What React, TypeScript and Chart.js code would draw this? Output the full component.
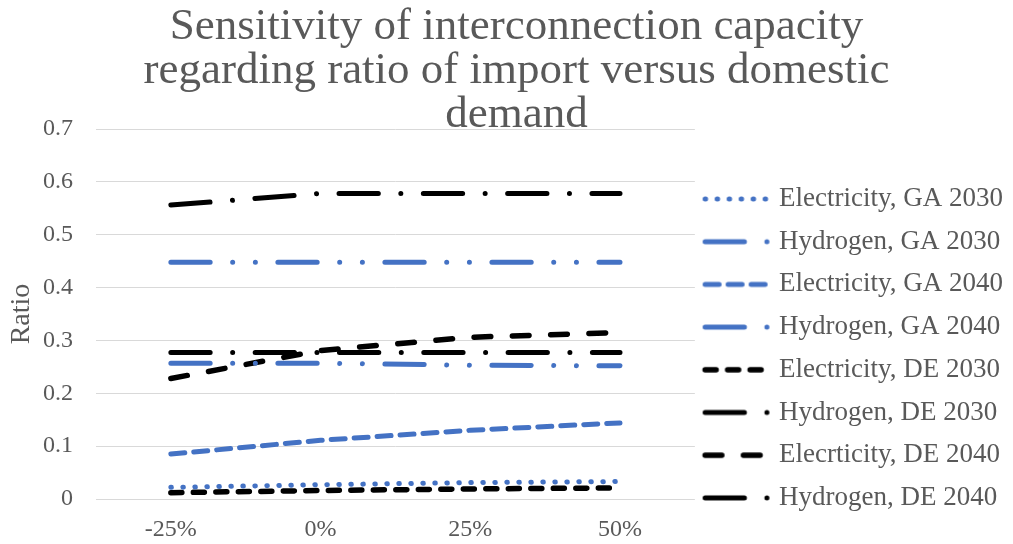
import { useEffect, useRef } from "react";
import { Chart, registerables } from "chart.js";

Chart.register(...registerables);

// Scenario axis: change of import share relative to the base case
const categories = ["-25%", "0%", "25%", "50%"];

// Interconnection capacity ratios per scenario
const electricityGA2030 = [0.022, 0.027, 0.031, 0.033];
const hydrogenGA2030 = [0.257, 0.257, 0.253, 0.252];
const electricityGA2040 = [0.085, 0.111, 0.13, 0.144];
const hydrogenGA2040 = [0.448, 0.448, 0.448, 0.448];
const electricityDE2030 = [0.012, 0.016, 0.019, 0.021];
const hydrogenDE2030 = [0.277, 0.277, 0.277, 0.277];
const electricityDE2040 = [0.228, 0.281, 0.306, 0.315];
const hydrogenDE2040 = [0.556, 0.578, 0.578, 0.578];

const seriesLabels = [
  "Electricity, GA 2030",
  "Hydrogen, GA 2030",
  "Electricity, GA 2040",
  "Hydrogen, GA 2040",
  "Electricity, DE 2030",
  "Hydrogen, DE 2030",
  "Elecrticity, DE 2040",
  "Hydrogen, DE 2040",
];

const seriesData = [
  electricityGA2030,
  hydrogenGA2030,
  electricityGA2040,
  hydrogenGA2040,
  electricityDE2030,
  hydrogenDE2030,
  electricityDE2040,
  hydrogenDE2040,
];

const yTicks = { min: 0, max: 0.7, step: 0.1 };

const BLUE = "#4472C4";
const BLACK = "#000000";
const TEXT = "#595959";
const GRID = "#d9d9d9";
const FONT = "'Liberation Serif', 'Times New Roman', serif";

// Line looks: round-capped dash patterns
const DOT = [0.5, 11.5];
const SHORT_DASH_BLUE = [14, 9];
const SHORT_DASH_BLACK = [11, 11.5];
const LONG_DASH = [16.7, 21.6];
const LONG_DASH_DOT = [39.3, 22.5, 0.01, 22.5];
const LONG_DASH_DOT_DOT = [39.3, 22.5, 0.01, 22.7, 0.01, 22.5];

const seriesStyles = [
  { color: BLUE, width: 5, dash: DOT },
  { color: BLUE, width: 5, dash: LONG_DASH_DOT_DOT },
  { color: BLUE, width: 5, dash: SHORT_DASH_BLUE },
  { color: BLUE, width: 5, dash: LONG_DASH_DOT_DOT },
  { color: BLACK, width: 5.5, dash: SHORT_DASH_BLACK },
  { color: BLACK, width: 5, dash: LONG_DASH_DOT },
  { color: BLACK, width: 5.5, dash: LONG_DASH },
  { color: BLACK, width: 5, dash: LONG_DASH_DOT },
];

// Legend swatch: a short stroke with the series' own dash pattern
function makeMarker(color: string, width: number, dash: number[]) {
  const c = document.createElement("canvas");
  c.width = 75;
  c.height = 12;
  const ctx = c.getContext("2d")!;
  ctx.strokeStyle = color;
  ctx.lineWidth = width;
  ctx.lineCap = "round";
  ctx.setLineDash(dash);
  ctx.beginPath();
  ctx.moveTo(4.5, 6);
  ctx.lineTo(68, 6);
  ctx.stroke();
  return c;
}

export default function App() {
  const canvasRef = useRef<HTMLCanvasElement | null>(null);

  useEffect(() => {
    const canvas = canvasRef.current;
    if (!canvas) return;

    const markers = seriesStyles.map((s) => makeMarker(s.color, s.width, s.dash));

    const datasets = seriesLabels.map((label, i) => ({
      label,
      data: seriesData[i],
      borderColor: seriesStyles[i].color,
      backgroundColor: seriesStyles[i].color,
      borderWidth: seriesStyles[i].width,
      borderDash: seriesStyles[i].dash,
      borderCapStyle: "round" as const,
      borderJoinStyle: "round" as const,
      pointRadius: 0,
      pointHoverRadius: 0,
      tension: 0,
      fill: false,
    }));

    const chart = new Chart(canvas, {
      type: "line",
      data: { labels: categories, datasets },
      options: {
        animation: false,
        responsive: false,
        devicePixelRatio: 1,
        layout: { padding: { left: 20, right: 0, top: 0, bottom: 0 } },
        plugins: {
          tooltip: { enabled: false },
          title: {
            display: true,
            text: [
              "Sensitivity of interconnection capacity",
              "regarding ratio of import versus domestic",
              "demand",
            ],
            color: TEXT,
            font: { family: FONT, size: 45, weight: "normal", lineHeight: 44 / 45 },
            padding: { top: 5, bottom: -8 },
          },
          legend: {
            position: "right",
            align: "center",
            maxWidth: 400,
            title: {
              display: true,
              text: " ",
              padding: { top: 128.9, bottom: 0 },
              font: { family: FONT, size: 20, lineHeight: 1.2 },
            },
            labels: {
              usePointStyle: true,
              pointStyleWidth: 55,
              padding: 15.7,
              color: TEXT,
              font: { family: FONT, size: 27 },
              generateLabels: (c: Chart) => {
                const items = Chart.defaults.plugins.legend.labels.generateLabels(c);
                return items.map((it: any) => ({
                  ...it,
                  pointStyle: markers[it.datasetIndex],
                }));
              },
            },
          },
        },
        scales: {
          x: {
            offset: true,
            grid: { display: false, drawTicks: false },
            border: { display: false },
            ticks: {
              padding: 16,
              color: TEXT,
              font: { family: FONT, size: 24 },
              maxRotation: 0,
            },
            afterFit: (s: any) => {
              s.height = 45;
            },
          },
          y: {
            min: yTicks.min,
            max: yTicks.max,
            grid: { color: GRID, lineWidth: 1, drawTicks: false },
            border: { display: false },
            ticks: {
              stepSize: yTicks.step,
              padding: 23,
              color: TEXT,
              font: { family: FONT, size: 24 },
              callback: (v: any) => (+v).toFixed(1).replace(/\.0$/, ""),
            },
            title: {
              display: true,
              text: "Ratio",
              color: TEXT,
              font: { family: FONT, size: 28 },
              padding: { top: -14.8, bottom: 0 },
            },
            afterFit: (s: any) => {
              s.width = 76;
            },
          },
        },
      },
    });

    return () => chart.destroy();
  }, []);

  return (
    <div style={{ position: "absolute", left: 0, top: 0, width: 1013, height: 544, background: "#fff" }}>
      <canvas ref={canvasRef} width={1013} height={544} />
    </div>
  );
}
